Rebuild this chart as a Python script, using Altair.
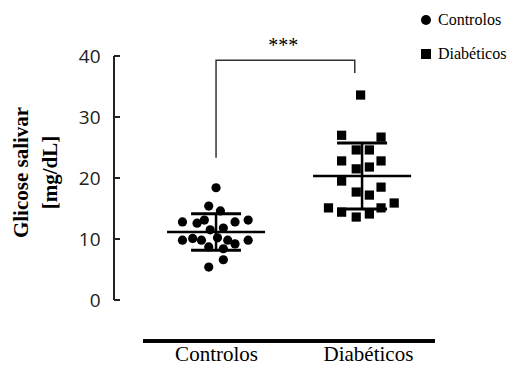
import altair as alt
import pandas as pd

# ---------------- data ----------------
groups = ["Controlos", "Diabéticos"]
group_shapes = ["circle", "square"]

ctrl_values = [18.4, 15.4, 14.6, 12.8, 12.6, 13.1, 12.8, 13.1, 11.5, 11.8, 9.8,
               10.1, 9.8, 10.2, 9.8, 9.2, 9.8, 8.7, 8.4, 6.6, 5.4]
ctrl_jitter = [0.0, -0.05, 0.03, -0.23, -0.13, -0.08, 0.13, 0.22, -0.04, 0.05, -0.23,
               -0.16, -0.10, 0.01, 0.08, 0.13, 0.22, -0.05, 0.05, 0.05, -0.05]

diab_values = [33.6, 27.0, 26.7, 24.6, 24.6, 22.8, 22.8, 21.5, 21.8, 19.5, 18.5,
               17.7, 17.2, 15.9, 15.1, 14.4, 13.6, 14.1, 15.1]
diab_jitter = [-0.01, -0.14, 0.13, -0.04, 0.05, -0.14, 0.13, -0.04, 0.05, -0.14, 0.13,
               -0.04, 0.05, 0.22, -0.23, -0.14, -0.04, 0.05, 0.13]

y_ticks = [0, 10, 20, 30, 40]
y_title = ["Glicose salivar", "[mg/dL]"]

sig_label = "***"
bracket_x = [0.0, 0.0, 0.95, 0.95]
bracket_y = [23.3, 39.3, 39.3, 37.2]
sig_x = [0.46]
sig_y = [41.6]

# ---------------- tables ----------------
pts = pd.DataFrame({
    "group": [groups[0]] * len(ctrl_values) + [groups[1]] * len(diab_values),
    "gi": [0] * len(ctrl_values) + [1] * len(diab_values),
    "value": ctrl_values + diab_values,
    "jit": ctrl_jitter + diab_jitter,
})
ticks_df = pd.DataFrame({"t": y_ticks})
bracket_df = pd.DataFrame({"x": bracket_x, "y": bracket_y, "o": list(range(len(bracket_x)))})
sig_df = pd.DataFrame({"x": sig_x, "y": sig_y, "label": [sig_label]})

W, H = 330, 244
X_SCALE = alt.Scale(domain=[-0.692, 1.568], nice=False, zero=False)
Y_SCALE = alt.Scale(domain=[0, 40], nice=False, zero=False)
X_AXIS = alt.Axis(values=[0, 1.04],
                  labelExpr=f"datum.value < 0.5 ? '{groups[0]}' : '{groups[1]}'",
                  domain=False, ticks=False, grid=False, title=None,
                  labelFont="Liberation Serif", labelFontSize=21, labelColor="black",
                  labelPadding=43)
Y_AXIS = alt.Axis(values=y_ticks, domain=False, ticks=False, grid=False,
                  title=y_title, titleFont="Liberation Serif", titleFontSize=21,
                  titleFontWeight="bold", titleColor="black", titleLineHeight=29,
                  titleAngle=270, titleAlign="center", titleBaseline="middle",
                  titleX=-94, titleY=116,
                  labelFont="Open Sans", labelFontSize=19, labelColor="#222222",
                  labelPadding=15)

def X(field):
    return alt.X(field, type="quantitative", scale=X_SCALE, axis=X_AXIS)

def Y(field, **kw):
    return alt.Y(field, type="quantitative", scale=Y_SCALE, axis=Y_AXIS, **kw)

base = alt.Chart(pts).transform_calculate(xpos="datum.gi + datum.jit")

points = base.mark_point(filled=True, opacity=1, color="black", size=85).encode(
    x=X("xpos"),
    y=Y("value"),
    shape=alt.Shape("group:N",
                    scale=alt.Scale(domain=groups, range=group_shapes),
                    legend=alt.Legend(orient="none", legendX=303, legendY=-44,
                                      title=None, padding=0,
                                      labelFont="Liberation Serif", labelFontSize=16,
                                      labelColor="black", labelOffset=4,
                                      symbolSize=100, symbolFillColor="black",
                                      symbolStrokeColor="black", symbolStrokeWidth=0,
                                      rowPadding=18)),
)

stats = alt.Chart(pts).transform_aggregate(
    m="mean(value)", sd="stdev(value)", groupby=["gi"]
).transform_calculate(lo="datum.m - datum.sd", hi="datum.m + datum.sd")

sd_rule = stats.mark_rule(color="black", strokeWidth=2.5).encode(
    x=X("gi"), y=Y("lo"), y2="hi"
)
mean_tick = stats.mark_tick(color="black", orient="horizontal", size=98,
                            thickness=2.5, opacity=1).encode(x=X("gi"), y=Y("m"))
lo_tick = stats.mark_tick(color="black", orient="horizontal", size=50,
                          thickness=3, opacity=1).encode(x=X("gi"), y=Y("lo"))
hi_tick = stats.mark_tick(color="black", orient="horizontal", size=50,
                          thickness=3, opacity=1).encode(x=X("gi"), y=Y("hi"))

# y axis line and inward ticks
y_line = alt.Chart(ticks_df).mark_rule(color="#222222", strokeWidth=2).encode(
    x=alt.value(-1), y=Y("min(t)"), y2="max(t)"
)
y_tick_marks = alt.Chart(ticks_df).mark_rule(color="#222222", strokeWidth=2).encode(
    x=alt.value(-1), x2=alt.value(5), y=Y("t")
)
# x axis line (offset below the plot)
x_line = alt.Chart(ticks_df).mark_rule(color="black", strokeWidth=2.8).encode(
    x=alt.value(28), x2=alt.value(320), y=alt.value(H + 41)
)

bracket = alt.Chart(bracket_df).mark_line(color="#333333", strokeWidth=1.5).encode(
    x=X("x"), y=Y("y"), order="o:Q"
)
sig = alt.Chart(sig_df).mark_text(font="Liberation Serif", fontSize=20,
                                  color="black", baseline="middle").encode(
    x=X("x"), y=Y("y"), text="label:N"
)

chart = alt.layer(
    points, sd_rule, mean_tick, lo_tick, hi_tick, y_line, y_tick_marks, x_line,
    bracket, sig
).properties(
    width=W, height=H, autosize="none",
    padding={"left": 107, "top": 48, "right": 62, "bottom": 64},
).configure_view(stroke=None)

chart.save("out.html", embed_options={"renderer": "svg", "actions": False})
